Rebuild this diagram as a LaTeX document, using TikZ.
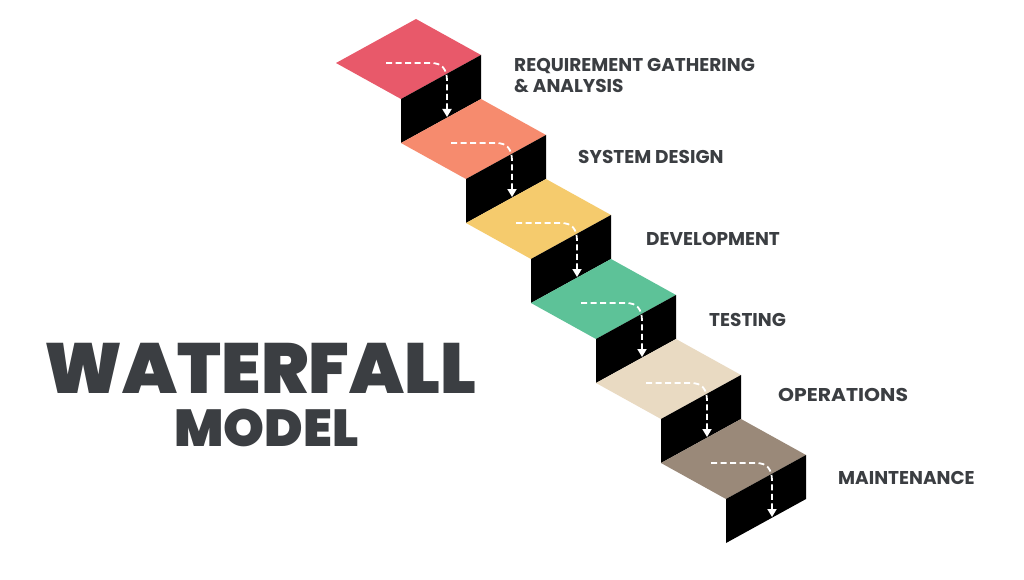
\documentclass[tikz,border=0pt]{standalone}
\usepackage{fontspec}
\setmainfont{Poppins}
\newfontfamily\heavyfont{Poppins Black}
\usetikzlibrary{arrows.meta,calc}
\definecolor{cA}{HTML}{E8596A}
\definecolor{cB}{HTML}{F68B6E}
\definecolor{cC}{HTML}{F5CB6D}
\definecolor{cD}{HTML}{5DC298}
\definecolor{cE}{HTML}{E9DAC2}
\definecolor{cF}{HTML}{9A8979}
\definecolor{ink}{HTML}{3B3E42}
\tikzset{
  riser/.style={fill=black},
  flow/.style={white, line width=1.8pt, dash pattern=on 6pt off 3.5pt, -{Triangle[width=9pt,length=8pt]}},
  lab/.style={anchor=base west, inner sep=0pt, text=ink, font=\fontsize{18.5}{21}\selectfont\bfseries},
  title/.style={anchor=base, inner sep=0pt, text=ink}
}
\begin{document}
\begin{tikzpicture}[x=1pt,y=-1pt]
\useasboundingbox[fill=white] (0,0) rectangle (1024,580);
\foreach \c [count=\i from 0] in {cA,cB,cC,cD,cE,cF}{
  \coordinate (L\i) at ({336+65*\i},{63+80*\i});
  \coordinate (T\i) at ($(L\i)+(80,-44)$);
  \coordinate (F\i) at ($(L\i)+(65,36)$);
  \coordinate (R\i) at ($(L\i)+(145,-8)$);
  \fill[\c] (L\i) -- (T\i) -- (R\i) -- (F\i) -- cycle;
  \fill[riser] (F\i) -- (R\i) -- ++(0,44) -- ($(F\i)+(0,44)$) -- cycle;
  \coordinate (s\i) at ($(L\i)+(50,0)$);
  \coordinate (k\i) at ($(L\i)+(95,0)$);
  \coordinate (e\i) at ($(L\i)+(111,54)$);
  \draw[flow] (s\i) -- (k\i) .. controls ($(k\i)+(11,0)$) and ($(L\i)+(111,6)$) .. ($(L\i)+(111,18)$) -- (e\i);
}
\node[lab] (l1a) at (514,72) {REQUIREMENT GATHERING};
\node[lab] (l1b) at (514,93) {\& ANALYSIS};
\node[lab] (l2) at (578,163.5) {SYSTEM DESIGN};
\node[lab] (l3) at (646,245.5) {DEVELOPMENT};
\node[lab] (l4) at (709,326.5) {TESTING};
\node[lab, xscale=1.1] (l5) at (778,401.5) {OPERATIONS};
\node[lab] (l6) at (838,484.5) {MAINTENANCE};
\node[title, font=\heavyfont\fontsize{71}{71}\selectfont] (t1) at (260.5,393) {WATERFALL};
\node[title, font=\heavyfont\fontsize{52}{52}\selectfont] (t2) at (266.5,446) {MODEL};
\end{tikzpicture}
\end{document}
